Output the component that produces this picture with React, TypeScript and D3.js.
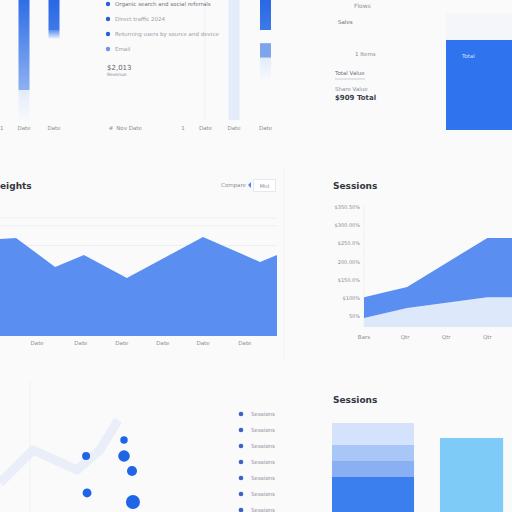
import React from "react";
import * as d3 from "d3";

const FONT = "DejaVu Sans, Verdana, sans-serif";
const GRAY = "#8a8f99";
const INK = "#33373f";
const BLUE = "#5a8ef0";

// top strip (bars hanging from the top edge)
const stripTicks = ["1", "Date", "Date", "#", "Nov Date", "1", "Date", "Date", "Date"];
const stripTickPos = [0, 0.8, 1.8, 3.7, 4.3, 6.1, 6.85, 7.8, 8.85];
const stripBarTick = [1, 2, 7, 8];
const stripBarParts: [number, number, string][][] = [
  [[0, 25, "faint"], [25, 100, "solid"]],
  [[68, 75, "fade"], [75, 100, "dark"]],
  [[0, 100, "pale"]],
  [[33, 52, "faint"], [52, 64, "mid"], [75, 100, "dark"]],
];

// legend in the top strip
const stripLegend = [
  "Organic search and social referrals",
  "Direct traffic 2024",
  "Returning users by source and device",
  "Email",
];
const stripTotal = "$2,013";
const stripTotalNote = "Revenue";

// top right card
const cardLines = { head: "Flows", sub: "Sales", items: "1 Items", a: "Total Value", b: "Share Value", c: "$909 Total" };
const cardBarValue = 90;
const cardBarCap = 117;

// weights area chart
const weightX = [0, 5.8, 19.9, 30.3, 45.8, 73.3, 93.9, 100];
const weightY = [98.6, 99.7, 70.2, 82.4, 59, 100.7, 75.3, 82.4];
const weightTickX = [13.4, 29.2, 44, 58.8, 73.3, 88.4];
const weightTicks = ["Date", "Date", "Date", "Date", "Date", "Date"];
const weightGrid = [120, 112, 92, 62, 32];

// sessions stacked area
const sessX = [0, 1.05, 3, 3.6];
const sessLow = [45, 72, 102, 102];
const sessHigh = [102, 130, 265, 265];
const sessYTicks = [50, 100, 150, 200, 250, 300, 350];
const sessYLabels = ["50%", "$100%", "$150.0%", "200.00%", "$250.0%", "$300.00%", "$350.50%"];
const sessXTicks = ["Bars", "Qtr", "Qtr", "Qtr"];

// scatter trail
const trailX = [0, 20.6, 48.1, 62.5, 73.8];
const trailY = [25.9, 55.4, 37.5, 55.4, 82.1];
const dotX = [53.8, 54.4, 77.5, 77.5, 82.5, 83.1];
const dotY = [50, 17, 64.3, 50, 36.6, 8.9];
const dotSize = [16, 20, 14, 34, 25, 49];
const dotLegend = ["Sessions", "Sessions", "Sessions", "Sessions", "Sessions", "Sessions", "Sessions"];

// stacked bars
const stackCats = ["Visits", "Views"];
const stackParts = [35, 16, 16, 22];
const singleBar = 74;

export default function App() {
  // strip scales
  const sx = d3.scaleLinear().domain([0, 9]).range([0, 270]);
  const sy = d3.scaleLinear().domain([0, 100]).range([120, 0]);
  const fillFor: Record<string, string> = {
    faint: "url(#gFaint)",
    solid: "url(#gSolid)",
    fade: "url(#gFade)",
    dark: "url(#gDark)",
    pale: "#e4ecfa",
    mid: "#7ea4ea",
  };

  // card
  const cy = d3.scaleLinear().domain([0, 100]).range([130, 30]);

  // weights
  const wx = d3.scaleLinear().domain([0, 100]).range([0, 277]);
  const wy = d3.scaleLinear().domain([0, 120]).range([336, 218]);
  const wArea = d3
    .area<number>()
    .x((_, i) => wx(weightX[i]))
    .y0(wy(0))
    .y1((d) => wy(d));

  // sessions
  const ax = d3.scaleLinear().domain([0, 3.6]).range([364, 512]);
  const ay = d3.scaleLinear().domain([20, 350]).range([327, 207]);
  const lowArea = d3
    .area<number>()
    .x((_, i) => ax(sessX[i]))
    .y0(ay(20))
    .y1((d) => ay(d));
  const highArea = d3
    .area<number>()
    .x((_, i) => ax(sessX[i]))
    .y0((_, i) => ay(sessLow[i]))
    .y1((d) => ay(d));

  // scatter
  const px = d3.scaleLinear().domain([0, 100]).range([0, 160]);
  const py = d3.scaleLinear().domain([0, 100]).range([512, 400]);
  const pr = d3.scaleSqrt().domain([0, 49]).range([0, 7]);
  const trail = d3
    .line<number>()
    .x((_, i) => px(trailX[i]))
    .y((d) => py(d));
  const legendY = d3.scalePoint<number>().domain(d3.range(dotLegend.length)).range([414, 510]);

  // stacked bars
  const bx = d3.scaleBand().domain(stackCats).range([332, 522]).paddingInner(0.24);
  const by = d3.scaleLinear().domain([0, 100]).range([512, 412]);
  const stackColors = ["#3b7eee", "#89b0f3", "#a8c6f6", "#d4e3fb"];
  const stackEnds = d3.cumsum(stackParts);

  const legendRowY = d3.scalePoint<number>().domain(d3.range(stripLegend.length)).range([4, 49]);

  return (
    <svg width={512} height={512} style={{ display: "block", position: "absolute", left: 0, top: 0, background: "#fafafa" }} fontFamily={FONT}>
      <defs>
        <linearGradient id="gSolid" x1="0" y1="0" x2="0" y2="1">
          <stop offset="0%" stopColor="#2e6de6" />
          <stop offset="100%" stopColor="#8db1f2" />
        </linearGradient>
        <linearGradient id="gDark" x1="0" y1="0" x2="0" y2="1">
          <stop offset="0%" stopColor="#2967e4" />
          <stop offset="100%" stopColor="#3e7ae8" />
        </linearGradient>
        <linearGradient id="gFade" x1="0" y1="0" x2="0" y2="1">
          <stop offset="0%" stopColor="#5a8ef0" />
          <stop offset="100%" stopColor="#e6eefb" />
        </linearGradient>
        <linearGradient id="gFaint" x1="0" y1="0" x2="0" y2="1">
          <stop offset="0%" stopColor="#e3ebfa" />
          <stop offset="100%" stopColor="#f8f9fc" />
        </linearGradient>
      </defs>
      <rect width={512} height={512} fill="#fafafa" />

      {/* faint panel dividers */}
      <line x1={205} x2={205} y1={0} y2={120} stroke="#eef0f3" />
      <line x1={284} x2={284} y1={170} y2={360} stroke="#f1f2f4" />
      <line x1={30} x2={30} y1={380} y2={512} stroke="#f1f2f5" />

      {/* ---------- top strip ---------- */}
      {stripBarParts.map((parts, b) =>
        parts.map(([lo, hi, kind], k) => (
          <rect
            key={`sb${b}-${k}`}
            x={sx(stripTickPos[stripBarTick[b]]) - 5.5}
            y={sy(hi)}
            width={11}
            height={sy(lo) - sy(hi)}
            fill={fillFor[kind]}
          />
        ))
      )}
      {stripTicks.map((t, i) => (
        <text key={`st${i}`} x={sx(stripTickPos[i])} y={130} fontSize={5.5} fill={GRAY} textAnchor={i === 0 ? "start" : "middle"}>
          {t}
        </text>
      ))}
      {stripLegend.map((t, i) => (
        <g key={`sl${i}`}>
          <circle cx={108} cy={legendRowY(i)} r={2.2} fill={i === 3 ? "#6a95e6" : "#2360dd"} />
          <text x={115} y={legendRowY(i)! + 2} fontSize={5.5} fill={i === 0 ? "#6e7480" : "#9aa0aa"}>
            {t}
          </text>
        </g>
      ))}
      <text x={107} y={70} fontSize={7} fill="#5b6170">{stripTotal}</text>
      <text x={107} y={75.5} fontSize={4.5} fill={GRAY}>{stripTotalNote}</text>

      {/* ---------- top right card ---------- */}
      <text x={354} y={8} fontSize={6} fill={GRAY}>{cardLines.head}</text>
      <text x={338} y={24} fontSize={5.5} fill="#6b717c">{cardLines.sub}</text>
      <text x={355} y={56} fontSize={5.5} fill={GRAY}>{cardLines.items}</text>
      <text x={335} y={75} fontSize={5.5} fill="#6b717c">{cardLines.a}</text>
      <line x1={335} x2={365} y1={79} y2={79} stroke="#c9ccd2" strokeWidth={1} />
      <text x={335} y={91} fontSize={5.5} fill="#8a8f99">{cardLines.b}</text>
      <text x={335} y={100} fontSize={7} fontWeight="bold" fill="#3a3f48">{cardLines.c}</text>
      <rect x={446} y={cy(cardBarCap)} width={66} height={cy(0) - cy(cardBarCap)} fill="#f4f6fa" />
      <rect x={446} y={cy(cardBarValue)} width={66} height={cy(0) - cy(cardBarValue)} fill="#2f74ee" />
      <text x={462} y={58} fontSize={5.5} fill="#cfe0ff">Total</text>

      {/* ---------- weights area ---------- */}
      <text x={0} y={189} fontSize={9} fontWeight="bold" fill={INK}>eights</text>
      <text x={246} y={187} fontSize={5.5} fill={GRAY} textAnchor="end">Compare</text>
      <path d="M251,182 L248,185 L251,188 Z" fill="#4f86ee" />
      <rect x={253.5} y={179.5} width={22} height={12} fill="#fff" stroke="#e6e8ec" />
      <text x={264.5} y={187.5} fontSize={5} fill={GRAY} textAnchor="middle">Mtd</text>
      {weightGrid.map((g) => (
        <line key={`wg${g}`} x1={0} x2={277} y1={wy(g)} y2={wy(g)} stroke="#eceef1" />
      ))}
      <path d={wArea(weightY) ?? ""} fill={BLUE} />
      {weightTicks.map((t, i) => (
        <text key={`wt${i}`} x={wx(weightTickX[i])} y={345} fontSize={5.5} fill={GRAY} textAnchor="middle">
          {t}
        </text>
      ))}

      {/* ---------- sessions area ---------- */}
      <text x={333} y={189} fontSize={9} fontWeight="bold" fill={INK}>Sessions</text>
      {sessYTicks.map((v, i) => (
        <text key={`ay${v}`} x={360} y={ay(v) + 2} fontSize={5} fill={GRAY} textAnchor="end">
          {sessYLabels[i]}
        </text>
      ))}
      <line x1={364} x2={364} y1={205} y2={327} stroke="#eef0f3" />
      <path d={lowArea(sessLow) ?? ""} fill="#dde8fb" />
      <path d={highArea(sessHigh) ?? ""} fill={BLUE} />
      {sessXTicks.map((t, i) => (
        <text key={`ax${i}`} x={ax(i)} y={339} fontSize={5.5} fill={GRAY} textAnchor="middle">
          {t}
        </text>
      ))}

      {/* ---------- scatter trail ---------- */}
      <path d={trail(trailY) ?? ""} fill="none" stroke="#e3eaf7" strokeWidth={9} strokeLinejoin="round" opacity={0.75} />
      {dotY.map((d, i) => (
        <circle key={`dt${i}`} cx={px(dotX[i])} cy={py(d)} r={pr(dotSize[i])} fill="#1f66e6" />
      ))}
      {dotLegend.map((t, i) => (
        <g key={`dl${i}`}>
          <circle cx={241} cy={legendY(i)} r={2.3} fill="#3a63c4" />
          <text x={251} y={legendY(i)! + 2} fontSize={5.5} fill={GRAY}>{t}</text>
        </g>
      ))}

      {/* ---------- stacked bars ---------- */}
      <text x={333} y={403} fontSize={9} fontWeight="bold" fill={INK}>Sessions</text>
      {stackParts.map((v, i) => (
        <rect
          key={`sp${i}`}
          x={bx(stackCats[0])}
          y={by(stackEnds[i])}
          width={bx.bandwidth()}
          height={by(stackEnds[i] - v) - by(stackEnds[i])}
          fill={stackColors[i]}
        />
      ))}
      <rect x={bx(stackCats[1])} y={by(singleBar)} width={bx.bandwidth() * 0.77} height={by(0) - by(singleBar)} fill="#7ecbf7" />
    </svg>
  );
}
